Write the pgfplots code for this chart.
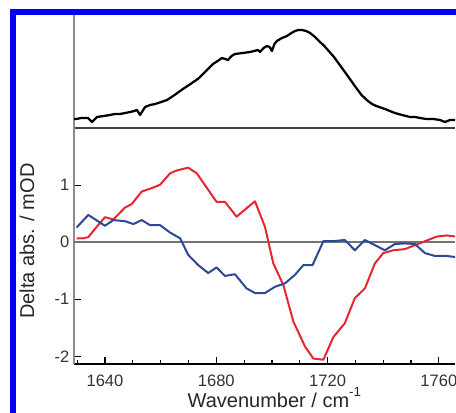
\documentclass[border=0pt]{standalone}
\usepackage{fontspec}
\setmainfont{Liberation Sans}
\usepackage{pgfplots}
\pgfplotsset{compat=1.18}

\definecolor{specred}{RGB}{230,38,48}
\definecolor{specblue}{RGB}{44,72,150}
\definecolor{frameblue}{RGB}{0,0,255}

\begin{document}
\begin{tikzpicture}
\useasboundingbox (0,0) rectangle (342pt,309pt);
\clip (0,0) rectangle (342pt,309pt);

% ---- upper panel: absorption spectrum ----
\begin{axis}[
  at={(55.5pt,213pt)}, anchor=south west,
  scale only axis, width=285.75pt, height=89.25pt,
  xmin=1628.86, xmax=1765.8, ymin=0, ymax=1.19,
  axis x line*=bottom, axis y line*=left,
  x axis line style={-, draw=black!75, line width=0.8pt},
  y axis line style={-, draw=black!45, line width=0.9pt},
  xtick=\empty, ytick=\empty,
  clip=true,
]
\addplot[black, line width=1.7pt, line join=round] coordinates {
(1628.9,0.09) (1629.6,0.09) (1631.5,0.10) (1633.9,0.10) (1635.3,0.06)
(1637.1,0.11) (1639.5,0.12) (1641.8,0.13) (1643.5,0.14) (1645.4,0.14)
(1647.2,0.15) (1649.0,0.16) (1650.5,0.17) (1651.5,0.18) (1652.6,0.13)
(1654.4,0.21) (1656.2,0.23) (1658.0,0.24) (1660.2,0.26) (1662.3,0.28)
(1665.0,0.33) (1668.0,0.39) (1670.2,0.43) (1672.3,0.47) (1673.8,0.50)
(1675.2,0.54) (1677.0,0.59) (1678.8,0.64) (1680.5,0.67) (1682.0,0.70)
(1683.2,0.69) (1684.2,0.68) (1685.5,0.72) (1686.7,0.74) (1689.5,0.75)
(1692.1,0.76) (1693.6,0.77) (1695.0,0.78) (1695.7,0.76) (1697.0,0.80)
(1698.2,0.82) (1699.2,0.81) (1700.0,0.77) (1700.9,0.84) (1701.8,0.87)
(1703.6,0.90) (1705.4,0.92) (1707.0,0.95) (1708.3,0.97) (1709.5,0.98)
(1710.8,0.98) (1712.3,0.97) (1713.7,0.95) (1715.5,0.91) (1717.3,0.86)
(1718.8,0.82) (1720.1,0.78) (1722.3,0.71) (1724.4,0.63) (1727.0,0.53)
(1729.8,0.42) (1732.2,0.33) (1734.5,0.27) (1736.0,0.24) (1737.5,0.22)
(1740.6,0.19) (1742.4,0.17) (1744.2,0.15) (1746.8,0.13) (1749.6,0.11)
(1751.5,0.11) (1753.2,0.10) (1755.5,0.09) (1758.0,0.09) (1760.4,0.08)
(1762.2,0.06) (1764.0,0.08) (1765.8,0.08)
};
\end{axis}

% ---- lower panel: difference spectra ----
\begin{axis}[
  at={(55.5pt,35.8pt)}, anchor=south west,
  scale only axis, width=285.75pt, height=177.2pt,
  xmin=1628.86, xmax=1765.8, ymin=-2.14, ymax=2.005,
  axis x line*=bottom, axis y line*=left,
  x axis line style={-, draw=black, line width=1.3pt},
  y axis line style={-, draw=black!45, line width=0.9pt},
  xtick={1640,1680,1720,1760},
  minor xtick={1630,1650,1660,1670,1690,1700,1710,1730,1740,1750},
  ytick={-2,-1,0,1},
  tick align=inside,
  major tick length=5.2pt, minor tick length=3pt,
  every major tick/.append style={black, line width=0.9pt},
  every minor tick/.append style={black, line width=0.9pt},
  /pgf/number format/assume math mode=true,
  /pgf/number format/set thousands separator={},
  tick label style={font=\fontsize{12.4}{14}\selectfont, text=black!80},
  xticklabel style={anchor=base, yshift=-16.3pt},
  clip=true,
]
\draw[black!55, line width=1.2pt] (axis cs:1628.86,0) -- (axis cs:1765.8,0);
\addplot[specred, line width=1.5pt, line join=round] coordinates {
(1629.8,0.07) (1632.0,0.07) (1634.0,0.09) (1637.0,0.27) (1640.0,0.44)
(1643.0,0.40) (1647.2,0.61) (1649.6,0.67) (1653.2,0.89) (1656.8,0.95)
(1659.8,1.01) (1663.4,1.21) (1665.8,1.26) (1669.9,1.31) (1673.0,1.21)
(1677.1,0.92) (1680.1,0.71) (1683.1,0.71) (1687.3,0.45) (1693.9,0.72)
(1697.5,0.27) (1700.5,-0.37) (1704.1,-0.75) (1707.7,-1.39) (1711.9,-1.83)
(1714.9,-2.04) (1718.5,-2.06) (1722.1,-1.66) (1726.2,-1.42) (1729.8,-0.98)
(1733.4,-0.81) (1737.0,-0.37) (1740.0,-0.19) (1743.6,-0.14) (1747.8,-0.12)
(1751.4,-0.05) (1755.6,0.03) (1759.2,0.10) (1762.8,0.12) (1766.1,0.10)
};
\addplot[specblue, line width=1.5pt, line join=round] coordinates {
(1629.8,0.26) (1634.0,0.48) (1640.0,0.29) (1643.0,0.39) (1647.2,0.37)
(1650.2,0.32) (1653.2,0.39) (1656.2,0.30) (1659.8,0.30) (1663.4,0.17)
(1667.0,0.07) (1669.9,-0.22) (1673.5,-0.40) (1677.1,-0.54) (1680.1,-0.44)
(1683.1,-0.59) (1686.7,-0.56) (1690.9,-0.81) (1693.9,-0.89) (1697.5,-0.89)
(1701.1,-0.78) (1704.7,-0.72) (1708.3,-0.57) (1711.3,-0.40) (1714.6,-0.40)
(1718.5,0.02) (1722.1,0.02) (1726.2,0.04) (1729.8,-0.14) (1733.4,0.04)
(1737.0,-0.05) (1740.6,-0.14) (1744.2,-0.03) (1747.8,-0.02) (1751.4,-0.03)
(1755.0,-0.19) (1758.6,-0.24) (1762.8,-0.24) (1766.1,-0.26)
};
\end{axis}

% axis titles
\node[rotate=90, anchor=base, font=\fontsize{15}{18}\selectfont, text=black!85]
  at (25.5pt,128.25pt) {Delta abs. / mOD};
\node[anchor=base west, font=\fontsize{15}{18}\selectfont, text=black!85]
  at (137.25pt,3.75pt) {Wavenumber / cm\raisebox{0.55em}{\fontsize{10}{12}\selectfont -1}};

% outer frame
\draw[frameblue, line width=4.5pt] (9.75pt,-5pt) -- (9.75pt,300pt) -- (350pt,300pt);
\end{tikzpicture}
\end{document}
